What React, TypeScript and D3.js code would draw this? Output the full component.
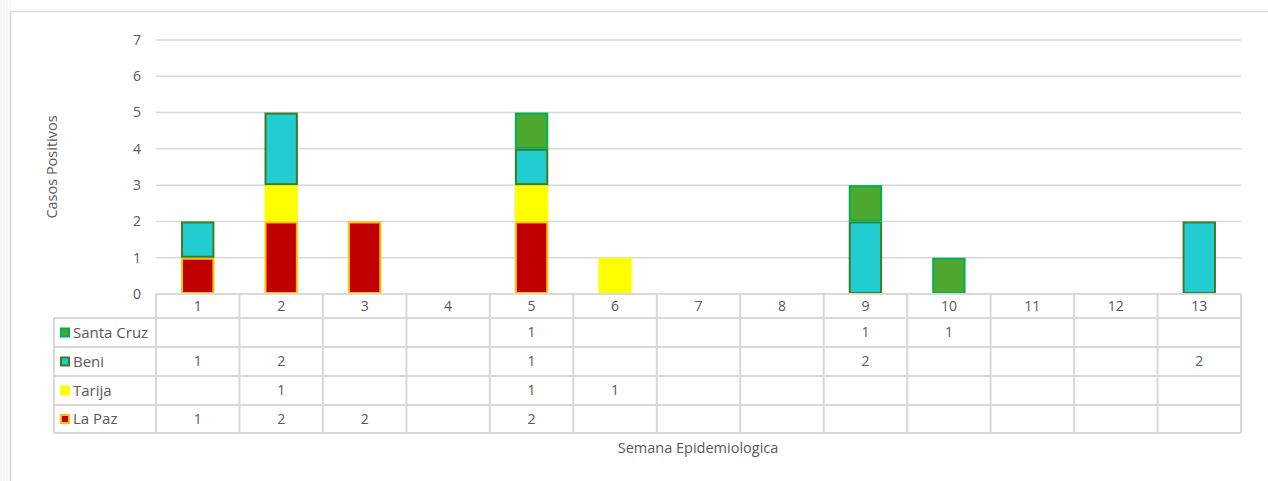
import React from "react";
import * as d3 from "d3";

const weeks = ["1", "2", "3", "4", "5", "6", "7", "8", "9", "10", "11", "12", "13"];
const laPaz = [1, 2, 2, 0, 2, 0, 0, 0, 0, 0, 0, 0, 0];
const tarija = [0, 1, 0, 0, 1, 1, 0, 0, 0, 0, 0, 0, 0];
const beni = [1, 2, 0, 0, 1, 0, 0, 0, 2, 0, 0, 0, 2];
const santaCruz = [0, 0, 0, 0, 1, 0, 0, 0, 1, 1, 0, 0, 0];
const yTicks = [0, 1, 2, 3, 4, 5, 6, 7];

const seriesNames = ["La Paz", "Tarija", "Beni", "Santa Cruz"];
const seriesValues = [laPaz, tarija, beni, santaCruz];
const fills = ["#c00000", "#ffff00", "#22cdd2", "#4ea72e"];
const strokes = ["#ffc000", "none", "#3b7d23", "#00b050"];

const W = 1268;
const H = 481;
const FONT = "'Open Sans', 'Liberation Sans', sans-serif";
const TXT = "#595959";
const GRID = "#d9d9d9";

export default function App() {
  const left = 156;
  const right = 1241;
  const y0 = 294;
  const y7 = 40;
  const x = d3.scaleBand<string>().domain(weeks).range([left, right]).paddingInner(0).paddingOuter(0);
  const y = d3.scaleLinear().domain([0, 7]).range([y0, y7]);
  const bw = x.bandwidth() / 2.5;

  const table = weeks.map((w, i) => {
    const o: any = { week: w };
    seriesNames.forEach((n, k) => (o[n] = seriesValues[k][i]));
    return o;
  });
  const stacked = d3.stack<any>().keys(seriesNames)(table);

  const rowOrder = [3, 2, 1, 0];
  const headerBottom = 318;
  const rowEdges = [318, 347, 376, 405, 433];
  const tableLeft = 54;

  return (
    <svg
      width={W}
      height={H}
      style={{ position: "absolute", left: 0, top: 0, background: "#fff" }}
      fontFamily={FONT}
    >
      {d3.range(0, 10, 3).map((v) => (
        <line key={"bg" + v} x1={v + 1} x2={v + 1} y1={0} y2={H} stroke="#f0f0f0" strokeWidth={1} />
      ))}
      <rect x={10.5} y={11.5} width={W} height={H} fill="#fff" stroke={GRID} strokeWidth={1.5} />

      {yTicks.map((t) => (
        <g key={"g" + t}>
          {t > 0 && (
            <line x1={left} x2={right} y1={y(t)} y2={y(t)} stroke={GRID} strokeWidth={1.5} />
          )}
          <text x={141} y={y(t)} dy="0.35em" textAnchor="end" fontSize={14} fill={TXT}>
            {t}
          </text>
        </g>
      ))}

      {stacked.map((s, k) =>
        s.map((d, i) => {
          const v = d[1] - d[0];
          if (!v) return null;
          const bx = (x(weeks[i]) as number) + (x.bandwidth() - bw) / 2;
          const sw = strokes[k] === "none" ? 0 : 2;
          return (
            <rect
              key={seriesNames[k] + i}
              x={bx + sw / 2}
              y={y(d[1]) + sw / 2}
              width={bw - sw}
              height={y(d[0]) - y(d[1]) - sw}
              fill={fills[k]}
              stroke={strokes[k]}
              strokeWidth={sw}
            />
          );
        })
      )}

      <line x1={left} x2={right} y1={y0} y2={y0} stroke={GRID} strokeWidth={2} />
      <line x1={tableLeft} x2={right} y1={headerBottom} y2={headerBottom} stroke={GRID} strokeWidth={2} />
      {rowEdges.slice(1).map((ry) => (
        <line key={"re" + ry} x1={tableLeft} x2={right} y1={ry} y2={ry} stroke={GRID} strokeWidth={2} />
      ))}
      <line x1={tableLeft} x2={tableLeft} y1={headerBottom} y2={rowEdges[4]} stroke={GRID} strokeWidth={2} />
      {weeks.map((w) => (
        <line
          key={"v" + w}
          x1={x(w) as number}
          x2={x(w) as number}
          y1={y0}
          y2={rowEdges[4]}
          stroke={GRID}
          strokeWidth={2}
        />
      ))}
      <line x1={right} x2={right} y1={y0} y2={rowEdges[4]} stroke={GRID} strokeWidth={2} />

      {weeks.map((w) => (
        <text
          key={"h" + w}
          x={(x(w) as number) + x.bandwidth() / 2}
          y={(y0 + headerBottom) / 2}
          dy="0.35em"
          textAnchor="middle"
          fontSize={14}
          fill={TXT}
        >
          {w}
        </text>
      ))}

      {rowOrder.map((k, r) => {
        const cy = (rowEdges[r] + rowEdges[r + 1]) / 2;
        const sw = strokes[k] === "none" ? 0 : 2;
        return (
          <g key={"row" + k}>
            <rect
              x={60 + sw / 2}
              y={cy - 5 + sw / 2}
              width={10 - sw}
              height={10 - sw}
              fill={fills[k]}
              stroke={strokes[k]}
              strokeWidth={sw}
            />
            <text x={73} y={cy} dy="0.35em" fontSize={15} fill={TXT}>
              {seriesNames[k]}
            </text>
            {seriesValues[k].map((v, i) =>
              v ? (
                <text
                  key={"c" + i}
                  x={(x(weeks[i]) as number) + x.bandwidth() / 2}
                  y={cy}
                  dy="0.35em"
                  textAnchor="middle"
                  fontSize={14}
                  fill={TXT}
                >
                  {v}
                </text>
              ) : null
            )}
          </g>
        );
      })}

      <text
        transform={`translate(57,167) rotate(-90)`}
        textAnchor="middle"
        fontSize={14.5}
        fill={TXT}
      >
        Casos Positivos
      </text>
      <text x={698} y={448} dy="0.35em" textAnchor="middle" fontSize={14.5} fill={TXT}>
        Semana Epidemiologica
      </text>
    </svg>
  );
}
